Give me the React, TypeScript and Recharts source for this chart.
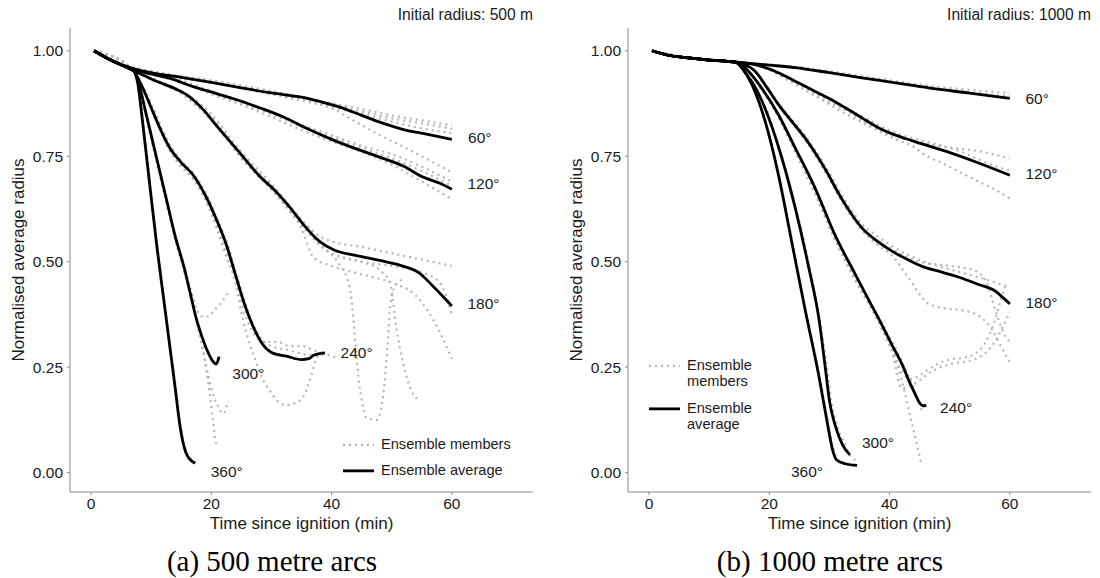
import React from "react";
import { ComposedChart, Line, Scatter, XAxis, YAxis } from "recharts";

type Pt = [number, number];

const SANS = '"Liberation Sans", Arial, sans-serif';
const SERIF = '"Liberation Serif", "Times New Roman", serif';
const INK = "#1a1a1a";
const FRAME = "#8a8a8a";
const MEMBER = "#b5b5b5";

const xTicks = [0, 20, 40, 60];
const yTicks = [0, 0.25, 0.5, 0.75, 1];
const angles = ["60°", "120°", "180°", "240°", "300°", "360°"];
const legendLabels = ["Ensemble members", "Ensemble average"];

// ---- (a) initial radius 500 m : ensemble averages
const avg500_60: Pt[] = [[0.5, 1], [3, 0.98], [5, 0.967], [7, 0.958], [10, 0.948], [15, 0.937], [20, 0.925], [25, 0.912], [30, 0.9], [35, 0.89], [38, 0.88], [41, 0.868], [45, 0.847], [49, 0.826], [52, 0.813], [56, 0.802], [60, 0.79]];
const avg500_120: Pt[] = [[0.5, 1], [3, 0.98], [5, 0.967], [7, 0.956], [10, 0.945], [13, 0.935], [17, 0.915], [21, 0.898], [24, 0.885], [28, 0.865], [32, 0.843], [36, 0.815], [40, 0.79], [44, 0.768], [48, 0.748], [52, 0.726], [55, 0.702], [58, 0.686], [60, 0.672]];
const avg500_180: Pt[] = [[0.5, 1], [3, 0.98], [5, 0.967], [7, 0.953], [9, 0.94], [11, 0.927], [14, 0.91], [16, 0.895], [18.7, 0.86], [21, 0.82], [23, 0.787], [25.5, 0.745], [28, 0.703], [30.5, 0.67], [33, 0.63], [35.5, 0.585], [38, 0.548], [40.5, 0.527], [44, 0.515], [48, 0.503], [52, 0.489], [54.5, 0.474], [57, 0.44], [60, 0.395]];
const avg500_240: Pt[] = [[0.5, 1], [3, 0.98], [5, 0.967], [7, 0.953], [8.5, 0.915], [10, 0.865], [11.5, 0.815], [13, 0.772], [15, 0.735], [17, 0.705], [19.2, 0.652], [21, 0.595], [22.5, 0.54], [24, 0.47], [25.5, 0.4], [27, 0.345], [28.5, 0.305], [30, 0.285], [32.5, 0.276], [35, 0.268], [36.2, 0.27], [37, 0.278], [38.9, 0.284]];
const avg500_300: Pt[] = [[0.5, 1], [3, 0.98], [5, 0.967], [7, 0.955], [8, 0.92], [9, 0.86], [10, 0.8], [11, 0.74], [12.5, 0.65], [14, 0.56], [15.5, 0.485], [16.5, 0.425], [17.5, 0.365], [18.5, 0.32], [19.3, 0.29], [20.2, 0.265], [20.8, 0.257], [21.3, 0.275]];
const avg500_360: Pt[] = [[0.5, 1], [3, 0.98], [5, 0.967], [7, 0.955], [7.8, 0.92], [8.5, 0.84], [9.3, 0.74], [10.1, 0.64], [11, 0.53], [12, 0.42], [13, 0.31], [14, 0.2], [14.8, 0.11], [15.4, 0.065], [16, 0.04], [17.3, 0.022]];

// ---- (a) ensemble members
const mem500_60a: Pt[] = [[0.5, 1], [5, 0.97], [10, 0.952], [20, 0.93], [30, 0.905], [40, 0.876], [45, 0.862], [50, 0.847], [55, 0.835], [60, 0.823]];
const mem500_60b: Pt[] = [[0.5, 1], [5, 0.968], [10, 0.95], [20, 0.928], [30, 0.9], [40, 0.871], [45, 0.856], [50, 0.84], [55, 0.828], [60, 0.815]];
const mem500_60c: Pt[] = [[0.5, 1], [5, 0.966], [10, 0.948], [20, 0.925], [30, 0.897], [40, 0.866], [45, 0.85], [50, 0.832], [55, 0.816], [60, 0.805]];
const mem500_60d: Pt[] = [[0.5, 1], [5, 0.966], [10, 0.948], [20, 0.924], [30, 0.898], [35, 0.886], [40, 0.864], [44, 0.832], [48, 0.8], [52, 0.772], [56, 0.742], [60, 0.712]];
const mem500_120a: Pt[] = [[0.5, 1], [5, 0.967], [10, 0.947], [15, 0.93], [20, 0.905], [25, 0.88], [30, 0.853], [35, 0.825], [40, 0.8], [45, 0.775], [50, 0.755], [55, 0.725], [60, 0.69]];
const mem500_120b: Pt[] = [[0.5, 1], [5, 0.966], [10, 0.944], [15, 0.925], [20, 0.897], [25, 0.872], [30, 0.843], [35, 0.812], [40, 0.785], [45, 0.76], [50, 0.73], [55, 0.69], [60, 0.648]];
const mem500_120c: Pt[] = [[0.5, 1], [5, 0.967], [10, 0.946], [15, 0.928], [20, 0.9], [25, 0.876], [30, 0.85], [35, 0.82], [40, 0.795], [45, 0.77], [50, 0.745], [55, 0.715], [60, 0.68]];
const mem500_180a: Pt[] = [[0.5, 1], [7, 0.953], [10, 0.935], [15, 0.905], [20, 0.85], [25, 0.76], [30, 0.685], [35, 0.6], [38, 0.56], [40, 0.548], [45, 0.535], [50, 0.52], [55, 0.505], [60, 0.49]];
const mem500_180b: Pt[] = [[0.5, 1], [7, 0.953], [10, 0.933], [15, 0.9], [20, 0.84], [25, 0.75], [30, 0.675], [35, 0.59], [38, 0.54], [40, 0.52], [45, 0.5], [50, 0.49], [55, 0.475], [58, 0.45], [60, 0.375]];
const mem500_180c: Pt[] = [[0.5, 1], [7, 0.953], [10, 0.932], [15, 0.898], [20, 0.835], [25, 0.745], [30, 0.67], [35, 0.58], [37, 0.51], [40, 0.49], [45, 0.47], [50, 0.45], [54, 0.42], [57, 0.36], [60, 0.27]];
const mem500_180d: Pt[] = [[0.5, 1], [7, 0.953], [10, 0.932], [15, 0.9], [20, 0.838], [25, 0.748], [30, 0.672], [35, 0.585], [38, 0.54], [41, 0.5], [43, 0.44], [44.7, 0.2], [45.8, 0.13], [47.5, 0.125], [48.6, 0.185], [49.3, 0.3], [49.8, 0.4], [50.5, 0.44], [52, 0.46]];
const mem500_180e: Pt[] = [[0.5, 1], [7, 0.953], [10, 0.934], [15, 0.902], [20, 0.842], [25, 0.752], [30, 0.678], [35, 0.592], [40, 0.52], [45, 0.5], [48, 0.48], [49.7, 0.45], [50.8, 0.34], [51.9, 0.26], [53.6, 0.185], [54.2, 0.175]];
const mem500_240a: Pt[] = [[0.5, 1], [7, 0.953], [10, 0.875], [13, 0.78], [15, 0.74], [17, 0.71], [19.2, 0.66], [21, 0.6], [22.5, 0.55], [24, 0.48], [25.5, 0.41], [27, 0.35], [28.5, 0.315], [30, 0.3], [33, 0.29], [36, 0.28], [39, 0.28], [41, 0.27]];
const mem500_240b: Pt[] = [[0.5, 1], [7, 0.953], [10, 0.87], [13, 0.77], [15, 0.73], [17, 0.7], [19.2, 0.645], [21, 0.585], [22.5, 0.52], [24, 0.45], [25.3, 0.36], [26.5, 0.3], [27.5, 0.26], [28.6, 0.22], [29.7, 0.195], [31, 0.17], [32.5, 0.16], [34, 0.165], [35.3, 0.18], [36.4, 0.22], [37.5, 0.27], [39, 0.29]];
const mem500_240c: Pt[] = [[0.5, 1], [7, 0.953], [10, 0.868], [13, 0.765], [15, 0.725], [17, 0.695], [19.2, 0.64], [21, 0.575], [22.5, 0.51], [24, 0.46], [25.5, 0.38], [27, 0.33], [29, 0.31], [31, 0.31], [33, 0.3], [35, 0.3], [37, 0.29], [39, 0.28]];
const mem500_300a: Pt[] = [[0.5, 1], [7, 0.955], [8, 0.92], [9, 0.86], [10, 0.8], [11, 0.74], [12.5, 0.65], [14, 0.56], [15.5, 0.49], [16.5, 0.44], [17.5, 0.39], [18.5, 0.37], [19.5, 0.37], [20.5, 0.385], [21.5, 0.4], [22.5, 0.42], [23, 0.43]];
const mem500_300b: Pt[] = [[0.5, 1], [7, 0.955], [8, 0.918], [9, 0.855], [10, 0.795], [11, 0.735], [12.5, 0.645], [14, 0.555], [15.5, 0.48], [16.5, 0.43], [17.5, 0.37], [18.3, 0.32], [19, 0.26], [19.7, 0.19], [20.3, 0.12], [20.8, 0.07], [21.5, 0.065]];
const mem500_300c: Pt[] = [[0.5, 1], [7, 0.955], [8, 0.917], [9, 0.852], [10, 0.79], [11, 0.73], [12.5, 0.64], [14, 0.55], [15.5, 0.475], [16.5, 0.42], [17.5, 0.36], [18.3, 0.31], [19.2, 0.25], [20, 0.2], [21, 0.16], [22, 0.14], [22.8, 0.17]];
const mem500_360a: Pt[] = [[0.5, 1], [7, 0.955], [7.9, 0.92], [8.6, 0.84], [9.4, 0.74], [10.2, 0.64], [11.1, 0.53], [12.1, 0.42], [13.1, 0.31], [14.1, 0.2], [14.9, 0.11], [15.6, 0.06], [16.5, 0.035], [17.5, 0.025]];

// ---- (b) initial radius 1000 m : ensemble averages
const avg1000_60: Pt[] = [[0.5, 1], [3, 0.99], [6.5, 0.983], [10, 0.978], [13, 0.975], [14.5, 0.973], [20, 0.966], [24.3, 0.96], [30, 0.948], [35.4, 0.936], [41, 0.924], [46.5, 0.912], [53, 0.9], [60, 0.887]];
const avg1000_120: Pt[] = [[0.5, 1], [3, 0.99], [6.5, 0.983], [10, 0.978], [13, 0.975], [14.5, 0.973], [16.5, 0.97], [18.7, 0.963], [21.5, 0.948], [24.3, 0.928], [27, 0.908], [29.8, 0.888], [32.5, 0.866], [35.4, 0.841], [38.2, 0.817], [41, 0.8], [43.7, 0.787], [49.3, 0.762], [54.8, 0.734], [60, 0.705]];
const avg1000_180: Pt[] = [[0.5, 1], [3, 0.99], [6.5, 0.983], [10, 0.978], [13, 0.975], [14.5, 0.973], [15.8, 0.968], [17.6, 0.952], [19.5, 0.915], [21.5, 0.873], [23.7, 0.833], [25.9, 0.794], [28, 0.75], [29.8, 0.707], [31.2, 0.67], [32.6, 0.636], [34, 0.606], [35.4, 0.58], [38, 0.548], [40.4, 0.525], [43, 0.505], [45.4, 0.489], [48, 0.478], [50.9, 0.466], [54.8, 0.446], [57.6, 0.43], [59, 0.413], [60, 0.4]];
const avg1000_240: Pt[] = [[0.5, 1], [3, 0.99], [6.5, 0.983], [10, 0.978], [13, 0.975], [14.5, 0.973], [15.3, 0.968], [16.5, 0.952], [18.7, 0.912], [21.5, 0.849], [24.3, 0.77], [27.6, 0.675], [30.9, 0.564], [34.3, 0.47], [36.5, 0.41], [38.7, 0.351], [40.5, 0.3], [42.1, 0.256], [43.3, 0.215], [44.3, 0.185], [45, 0.165], [45.6, 0.158], [46.1, 0.16]];
const avg1000_300: Pt[] = [[0.5, 1], [3, 0.99], [6.5, 0.983], [10, 0.978], [13, 0.975], [14.5, 0.973], [15.3, 0.962], [16.2, 0.945], [17.6, 0.915], [19.8, 0.845], [22, 0.75], [24.3, 0.628], [26.5, 0.49], [28.3, 0.36], [29.3, 0.25], [30, 0.17], [31, 0.11], [32.2, 0.065], [33.4, 0.042]];
const avg1000_360: Pt[] = [[0.5, 1], [3, 0.99], [6.5, 0.983], [10, 0.978], [13, 0.975], [14.5, 0.972], [15.5, 0.958], [17.1, 0.92], [19.3, 0.833], [21.5, 0.707], [23.7, 0.549], [25.9, 0.39], [28.2, 0.232], [29.8, 0.106], [30.5, 0.055], [31.2, 0.03], [32.6, 0.021], [34.6, 0.017]];

// ---- (b) ensemble members
const mem1000_60a: Pt[] = [[0.5, 1], [6.5, 0.983], [14.5, 0.973], [24.3, 0.962], [35, 0.941], [46, 0.918], [53, 0.908], [60, 0.9]];
const mem1000_60b: Pt[] = [[0.5, 1], [6.5, 0.983], [14.5, 0.973], [24.3, 0.961], [35, 0.938], [46, 0.914], [53, 0.902], [60, 0.892]];
const mem1000_120a: Pt[] = [[0.5, 1], [6.5, 0.983], [14.5, 0.973], [18.7, 0.963], [21.5, 0.945], [24.3, 0.925], [27, 0.903], [29.8, 0.88], [32.5, 0.86], [35.4, 0.835], [38.2, 0.812], [41, 0.797], [43.7, 0.787], [49.3, 0.772], [54.8, 0.762], [60, 0.745]];
const mem1000_120b: Pt[] = [[0.5, 1], [6.5, 0.983], [14.5, 0.973], [18.7, 0.962], [21.5, 0.943], [24.3, 0.92], [27, 0.898], [29.8, 0.875], [32.5, 0.852], [35.4, 0.83], [38.2, 0.81], [41, 0.79], [43.7, 0.775], [46, 0.752], [49.3, 0.73], [52, 0.71], [54.8, 0.69], [57, 0.675], [60, 0.65]];
const mem1000_120c: Pt[] = [[0.5, 1], [6.5, 0.983], [14.5, 0.973], [18.7, 0.963], [21.5, 0.946], [24.3, 0.926], [29.8, 0.884], [35.4, 0.845], [41, 0.805], [46, 0.785], [52, 0.76], [56, 0.735], [60, 0.715]];
const mem1000_180a: Pt[] = [[0.5, 1], [6.5, 0.983], [14.5, 0.973], [17.6, 0.953], [21.5, 0.876], [25.9, 0.8], [29.8, 0.715], [32.6, 0.645], [35.4, 0.59], [38, 0.56], [40.4, 0.537], [45.4, 0.502], [50, 0.482], [55, 0.462], [60, 0.44]];
const mem1000_180b: Pt[] = [[0.5, 1], [6.5, 0.983], [14.5, 0.973], [17.6, 0.951], [21.5, 0.87], [25.9, 0.79], [29.8, 0.7], [32.6, 0.63], [35.4, 0.575], [38, 0.54], [40.4, 0.515], [43, 0.465], [46.5, 0.4], [49, 0.39], [52, 0.385], [55, 0.37], [57, 0.34], [58.5, 0.3], [60, 0.262]];
const mem1000_180c: Pt[] = [[0.5, 1], [6.5, 0.983], [14.5, 0.973], [17.6, 0.952], [21.5, 0.872], [25.9, 0.795], [29.8, 0.71], [32.6, 0.64], [35.4, 0.583], [40.4, 0.53], [45, 0.5], [50, 0.49], [54, 0.48], [56, 0.455], [57.6, 0.385], [59, 0.33], [60, 0.31]];
const mem1000_240a: Pt[] = [[0.5, 1], [6.5, 0.983], [14.5, 0.973], [16.5, 0.952], [18.7, 0.91], [21.5, 0.846], [24.3, 0.765], [27.6, 0.668], [30.9, 0.56], [34.3, 0.468], [38.7, 0.356], [42.1, 0.262], [44, 0.2], [45.4, 0.145]];
const mem1000_240b: Pt[] = [[0.5, 1], [6.5, 0.983], [14.5, 0.973], [16.5, 0.951], [18.7, 0.908], [21.5, 0.842], [24.3, 0.76], [27.6, 0.66], [30.9, 0.552], [34.3, 0.455], [38.7, 0.345], [40.5, 0.29], [42, 0.22], [43.5, 0.13], [44.5, 0.07], [45.2, 0.025]];
const mem1000_240c: Pt[] = [[0.5, 1], [6.5, 0.983], [14.5, 0.973], [16.5, 0.953], [18.7, 0.912], [21.5, 0.848], [24.3, 0.768], [27.6, 0.67], [30.9, 0.558], [34.3, 0.462], [38.7, 0.35], [40.5, 0.29], [42, 0.24], [43.5, 0.222], [46, 0.24], [48, 0.258], [50, 0.268], [52, 0.272], [54, 0.28], [56, 0.31], [57.5, 0.36], [58.5, 0.41], [59.2, 0.44]];
const mem1000_240d: Pt[] = [[0.5, 1], [6.5, 0.983], [14.5, 0.973], [16.5, 0.952], [18.7, 0.91], [21.5, 0.845], [24.3, 0.764], [27.6, 0.665], [30.9, 0.555], [34.3, 0.458], [38.7, 0.34], [40.5, 0.28], [42, 0.2], [44, 0.21], [47, 0.24], [50, 0.257], [54, 0.268], [57, 0.3], [59, 0.35], [60, 0.38]];
const mem1000_300a: Pt[] = [[0.5, 1], [6.5, 0.983], [14.5, 0.973], [16.2, 0.946], [17.6, 0.917], [19.8, 0.85], [22, 0.755], [24.3, 0.635], [26.5, 0.5], [28.3, 0.37], [29.5, 0.26], [30.3, 0.17], [31.3, 0.11], [32.5, 0.07], [33.5, 0.04], [34.3, 0.03], [35, 0.028]];
const mem1000_360a: Pt[] = [[0.5, 1], [6.5, 0.983], [14.5, 0.972], [15.6, 0.958], [17.2, 0.92], [19.4, 0.832], [21.6, 0.705], [23.8, 0.548], [26, 0.388], [28.5, 0.22], [30, 0.1], [31, 0.04], [32, 0.025], [33.5, 0.02]];

// label anchor points (time, radius) for the angle annotations
const labelT500 = [62.7, 62.6, 62.6, 41.5, 23.5, 19.9];
const labelR500 = [0.795, 0.685, 0.4, 0.285, 0.234, 0.003];
const labelT1000 = [62.6, 62.6, 62.6, 48.4, 35.4, 23.6];
const labelR1000 = [0.886, 0.71, 0.404, 0.155, 0.072, 0.003];

const averages500 = [avg500_60, avg500_120, avg500_180, avg500_240, avg500_300, avg500_360];
const members500 = [mem500_60a, mem500_60b, mem500_60c, mem500_60d, mem500_120a, mem500_120b, mem500_120c, mem500_180a, mem500_180b, mem500_180c, mem500_180d, mem500_180e, mem500_240a, mem500_240b, mem500_240c, mem500_300a, mem500_300b, mem500_300c, mem500_360a];
const averages1000 = [avg1000_60, avg1000_120, avg1000_180, avg1000_240, avg1000_300, avg1000_360];
const members1000 = [mem1000_60a, mem1000_60b, mem1000_120a, mem1000_120b, mem1000_120c, mem1000_180a, mem1000_180b, mem1000_180c, mem1000_240a, mem1000_240b, mem1000_240c, mem1000_240d, mem1000_300a, mem1000_360a];

const toRows = (pts: Pt[]) => pts.map(([t, r]) => ({ t, r }));

const xDomain: [number, number] = [-3.5, 73.5];
const yDomain: [number, number] = [-0.046, 1.054];

const angleText = (props: any) => (
  <text
    x={props.cx}
    y={props.cy}
    dominantBaseline="central"
    fontFamily={SANS}
    fontSize={15.5}
    fill={INK}
  >
    {props.payload.text}
  </text>
);

interface PanelProps {
  offset: number;
  plotLeft: number;
  plotRight: number;
  title: string;
  caption: string;
  captionX: number;
  averages: Pt[][];
  members: Pt[][];
  labelT: number[];
  labelR: number[];
  legendX: number;
  legendY: number[];
  legendWidth: number;
}

const PLOT_TOP = 28;
const PLOT_BOTTOM = 492;
const CHART_H = 530;

const Panel: React.FC<PanelProps> = (p) => {
  const labels = angles.map((text, i) => ({ t: p.labelT[i], r: p.labelR[i], text }));
  const tickStyle = { fill: INK, fontSize: 15.5, fontFamily: SANS };
  const plotMid = (p.plotLeft + p.plotRight) / 2;
  return (
    <>
      <div style={{ position: "absolute", left: p.offset, top: 0 }}>
        <ComposedChart
          width={550}
          height={CHART_H}
          margin={{
            top: PLOT_TOP,
            bottom: CHART_H - PLOT_BOTTOM - 30,
            left: p.plotLeft - p.offset - 60,
            right: p.offset + 550 - p.plotRight
          }}
        >
          <XAxis
            type="number"
            dataKey="t"
            domain={xDomain}
            ticks={xTicks}
            allowDataOverflow
            height={30}
            tickSize={3}
            tickMargin={3}
            stroke={FRAME}
            tick={tickStyle}
          />
          <XAxis xAxisId="top" orientation="top" type="number" domain={xDomain} height={0} tick={false} tickLine={false} stroke={FRAME} />
          <YAxis
            type="number"
            dataKey="r"
            domain={yDomain}
            ticks={yTicks}
            allowDataOverflow
            width={60}
            tickSize={3}
            tickMargin={4}
            stroke={FRAME}
            tick={tickStyle}
            tickFormatter={(v: number) => v.toFixed(2)}
          />
          <YAxis yAxisId="right" orientation="right" type="number" domain={yDomain} width={0} tick={false} tickLine={false} stroke={FRAME} />
          {p.members.map((pts, i) => (
            <Line
              key={`m${i}`}
              data={toRows(pts)}
              dataKey="r"
              type="monotone"
              stroke={MEMBER}
              strokeWidth={2.2}
              strokeDasharray="2 4"
              dot={false}
              activeDot={false}
              isAnimationActive={false}
            />
          ))}
          {p.averages.map((pts, i) => (
            <Line
              key={`a${i}`}
              data={toRows(pts)}
              dataKey="r"
              type="monotone"
              stroke="#000"
              strokeWidth={2.8}
              dot={false}
              activeDot={false}
              isAnimationActive={false}
            />
          ))}
          <Scatter data={labels} dataKey="r" shape={angleText} isAnimationActive={false} />
        </ComposedChart>
      </div>
      {/* panel title */}
      <div style={{ position: "absolute", right: 1100 - p.plotRight, top: 15, transform: "translateY(-50%)", font: `15.6px ${SANS}`, color: INK, whiteSpace: "nowrap", lineHeight: 1 }}>
        {p.title}
      </div>
      {/* axis titles */}
      <div style={{ position: "absolute", left: plotMid, top: 523, transform: "translate(-50%,-50%)", font: `17px ${SANS}`, color: INK, whiteSpace: "nowrap", lineHeight: 1 }}>
        Time since ignition (min)
      </div>
      <div style={{ position: "absolute", left: p.plotLeft - 52, top: (PLOT_TOP + PLOT_BOTTOM) / 2, transform: "translate(-50%,-50%) rotate(-90deg)", font: `17px ${SANS}`, color: INK, whiteSpace: "nowrap", lineHeight: 1 }}>
        Normalised average radius
      </div>
      {/* legend */}
      {legendLabels.map((lab, i) => (
        <div key={lab} style={{ position: "absolute", left: p.legendX, top: p.legendY[i] - 7.85, display: "flex", alignItems: "flex-start" }}>
          <svg width={31} height={15.7}>
            <line x1={0} x2={31} y1={7.85} y2={7.85} stroke={i === 0 ? MEMBER : "#000"} strokeWidth={i === 0 ? 2.2 : 2.8} strokeDasharray={i === 0 ? "2 4" : undefined} />
          </svg>
          <div style={{ marginLeft: 7, width: p.legendWidth, font: `14.6px ${SANS}`, lineHeight: "15.7px", color: INK }}>{lab}</div>
        </div>
      ))}
      {/* sub-figure caption */}
      <div style={{ position: "absolute", left: p.captionX, top: 561, transform: "translate(-50%,-50%)", font: `29px ${SERIF}`, color: "#000", whiteSpace: "nowrap", lineHeight: 1 }}>
        {p.caption}
      </div>
    </>
  );
};

export default function App() {
  return (
    <div style={{ position: "absolute", left: 0, top: 0, width: 1100, height: 578, background: "#fff", overflow: "hidden" }}>
      <Panel
        offset={0}
        plotLeft={70}
        plotRight={533}
        title="Initial radius: 500 m"
        caption="(a) 500 metre arcs"
        captionX={272}
        averages={averages500}
        members={members500}
        labelT={labelT500}
        labelR={labelR500}
        legendX={343}
        legendY={[445.3, 471.3]}
        legendWidth={140}
      />
      <Panel
        offset={550}
        plotLeft={628}
        plotRight={1091}
        title="Initial radius: 1000 m"
        caption="(b) 1000 metre arcs"
        captionX={830}
        averages={averages1000}
        members={members1000}
        labelT={labelT1000}
        labelR={labelR1000}
        legendX={649}
        legendY={[365.7, 408.7]}
        legendWidth={72}
      />
    </div>
  );
}
